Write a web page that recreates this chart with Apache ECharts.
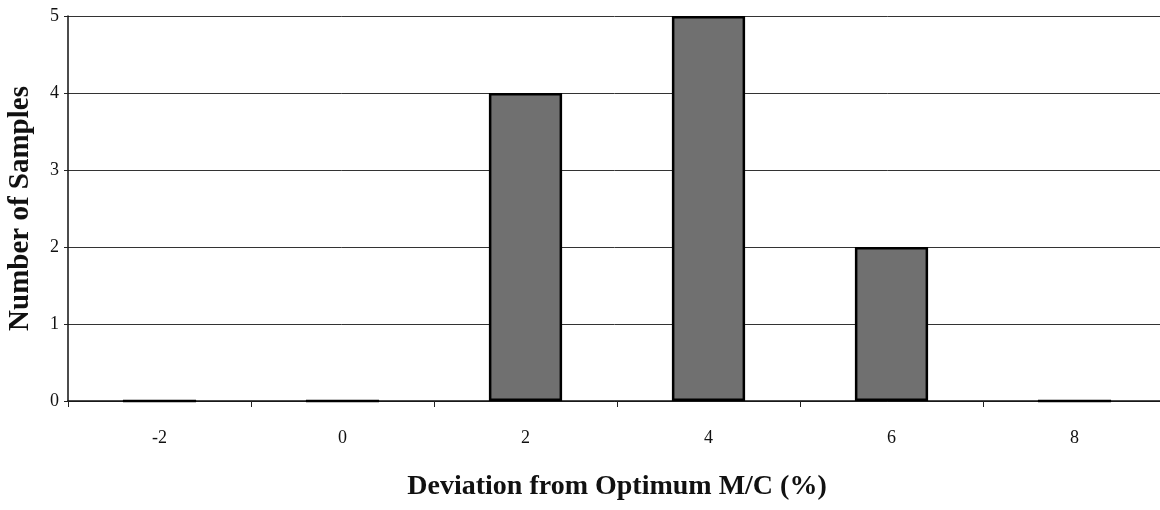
<!DOCTYPE html>
<html>
<head>
<meta charset="utf-8">
<script src="https://cdn.jsdelivr.net/npm/echarts@6/dist/echarts.min.js"></script>
<style>
  html, body { margin: 0; padding: 0; background: #fff; }
  #chart { width: 1160px; height: 510px; }
</style>
</head>
<body>
<div id="chart"></div>
<script>
// deviation classes (%) and sample counts
const categories = ['-2', '0', '2', '4', '6', '8']
const samples = [0, 0, 4, 5, 2, 0]

const chart = echarts.init(document.getElementById('chart'))

chart.setOption({
  backgroundColor: '#fff',
  animation: false,
  textStyle: { fontFamily: 'Liberation Serif' },
  grid: {
    left: 68,
    top: 16,
    bottom: 109,
    width: 1098,
    outerBoundsMode: 'none',
    containLabel: false
  },
  xAxis: {
    type: 'category',
    data: categories,
    name: 'Deviation from Optimum M/C (%)',
    nameLocation: 'middle',
    nameGap: 72,
    nameTextStyle: { fontSize: 28, fontWeight: 'bold', color: '#111', fontFamily: 'Liberation Serif' },
    axisLine: { lineStyle: { color: '#111', width: 1.5 } },
    axisTick: { show: true, length: 6, lineStyle: { color: '#222' } },
    axisLabel: { fontSize: 18, color: '#111', margin: 28 }
  },
  yAxis: {
    type: 'value',
    min: 0,
    max: 5,
    interval: 1,
    name: 'Number of Samples',
    nameLocation: 'middle',
    nameGap: 33,
    nameTextStyle: { fontSize: 29, fontWeight: 'bold', color: '#111', fontFamily: 'Liberation Serif' },
    axisLine: { show: true, lineStyle: { color: '#111', width: 1.5 } },
    axisTick: { show: true, length: 4, lineStyle: { color: '#222' } },
    axisLabel: { fontSize: 18, color: '#111', margin: 9 },
    splitLine: { show: true, lineStyle: { color: '#333', width: 1 } }
  },
  series: [{
    type: 'bar',
    data: samples,
    barWidth: '40%',
    itemStyle: {
      color: '#707070',
      borderColor: '#000',
      borderWidth: 2.5
    }
  }]
})
</script>
</body>
</html>
